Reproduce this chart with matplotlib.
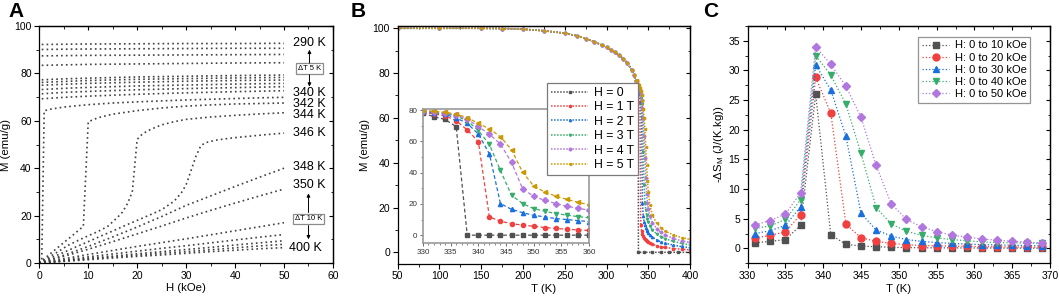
import matplotlib
matplotlib.use('Agg')
import matplotlib.pyplot as plt
from matplotlib.ticker import MultipleLocator

plt.rcParams['font.family'] = ['Liberation Sans', 'DejaVu Sans']
plt.rcParams['axes.linewidth'] = 0.9
plt.rcParams['mathtext.fontset'] = 'custom'
plt.rcParams['mathtext.rm'] = 'Liberation Sans'
plt.rcParams['mathtext.it'] = 'Liberation Sans:italic'

# ---------------- Panel A : M(H) isotherms ----------------
H_ferro = [0.5, 5, 10, 20, 30, 40, 50]
M_290 = [92.2, 92.3, 92.4, 92.5, 92.6, 92.6, 92.7]
M_295 = [90.1, 90.2, 90.3, 90.4, 90.5, 90.6, 90.6]
M_300 = [87.4, 87.5, 87.6, 87.7, 87.8, 87.9, 88.0]
M_305 = [83.4, 83.6, 83.8, 84.0, 84.2, 84.4, 84.5]
M_310 = [77.3, 77.7, 78.0, 78.5, 78.8, 79.1, 79.3]
M_315 = [76.2, 76.6, 77.0, 77.5, 77.8, 78.1, 78.3]
M_320 = [75.0, 75.4, 75.8, 76.3, 76.7, 77.0, 77.2]
M_325 = [73.2, 73.7, 74.1, 74.7, 75.1, 75.5, 75.8]
M_330 = [71.4, 72.0, 72.4, 73.1, 73.6, 74.0, 74.4]
M_335 = [69.3, 69.9, 70.4, 71.2, 71.8, 72.3, 72.7]

H_340 = [0, 0.5, 1, 2, 5, 10, 15, 20, 25, 30, 35, 40, 45, 50]
M_340 = [0, 0.8, 64.2, 64.8, 65.8, 66.8, 67.5, 68.0, 68.4, 68.8, 69.1, 69.4, 69.7, 69.9]

H_342 = [0, 1, 3, 5, 7, 9, 10, 12, 15, 20, 25, 30, 35, 40, 45, 50]
M_342 = [0, 1.8, 5.2, 8.6, 12.0, 15.5, 59.6, 61.3, 62.8, 64.3, 65.4, 66.2, 66.7, 67.1, 67.3, 67.5]

H_344 = [0, 2, 4, 6, 8, 10, 12, 14, 16, 17, 18, 19, 20, 21, 22, 23, 25, 27.5, 30, 35, 40, 45, 50]
M_344 = [0, 2.5, 5.0, 7.6, 9.6, 11.5, 13.3, 15.5, 19.3, 21.5, 25.0, 30.0, 52.2, 54.3, 55.6, 56.6,
         58.3, 59.6, 60.6, 61.6, 62.3, 62.9, 63.4]

H_346 = [0, 2.5, 5, 7.5, 10, 12.5, 15, 17.5, 20, 22.5, 25, 27.5, 29, 30, 31, 32, 33, 34, 36, 38, 40, 43, 46, 50]
M_346 = [0, 2.3, 4.5, 6.8, 9.0, 11.3, 13.5, 15.8, 18.0, 20.2, 22.5, 26.0, 29.5, 33.0, 39.0, 45.0, 49.5,
         50.8, 51.8, 52.4, 52.9, 53.5, 54.1, 54.8]

H_lin = [0, 2.5, 5, 10, 15, 20, 25, 30, 35, 40, 45, 50]
M_348 = [0, 1.6, 3.3, 7.0, 11.0, 15.2, 19.6, 24.3, 28.3, 32.3, 36.2, 40.0]
M_350 = [0, 1.4, 2.8, 5.8, 9.0, 12.3, 15.6, 19.0, 22.2, 25.3, 28.3, 31.2]
M_360 = [0, 0.9, 1.8, 3.6, 5.3, 7.0, 8.6, 10.2, 11.9, 13.6, 15.3, 17.0]
M_370 = [0, 0.7, 1.3, 2.6, 3.8, 5.0, 6.2, 7.3, 8.5, 9.7, 10.9, 12.0]
M_380 = [0, 0.5, 1.0, 2.0, 2.9, 3.9, 4.8, 5.7, 6.6, 7.6, 8.5, 9.4]
M_390 = [0, 0.4, 0.8, 1.7, 2.5, 3.3, 4.1, 4.8, 5.6, 6.4, 7.2, 7.9]
M_400 = [0, 0.35, 0.7, 1.4, 2.1, 2.8, 3.4, 4.1, 4.8, 5.4, 6.0, 6.5]

A_labels = ['290 K', '340 K', '342 K', '344 K', '346 K', '348 K', '350 K', '400 K']
A_label_y = [92.7, 71.6, 67.0, 62.4, 54.7, 40.6, 32.9, 6.2]

# ---------------- Panel B : M(T) ----------------
field_labels = ['H = 0', 'H = 1 T', 'H = 2 T', 'H = 3 T', 'H = 4 T', 'H = 5 T']
T_low = [50, 100, 150, 175, 200, 225, 250, 265, 275, 285, 295, 300, 305, 310, 315, 320, 325, 330, 333, 335]
M_low = [100, 100, 100, 99.9, 99.6, 98.9, 97.8, 96.6, 95.4, 94.0, 92.4, 91.5, 90.5, 89.3, 88.0, 86.4,
         84.5, 81.5, 79.0, 76.5]

T_hi_0 = [337, 338, 338.2, 345, 355, 365, 375, 385, 400]
M_hi_0 = [73.5, 72.0, 0, 0, 0, 0, 0, 0, 0]
T_hi = [336, 338, 339, 340, 341, 342, 343, 344, 345, 346, 347, 348, 349, 350, 352, 355, 360, 365, 370, 380, 390, 400]
M_hi_1 = [75.5, 72.5, 70.5, 67.0, 12.0, 9.5, 8.2, 7.2, 6.5, 6.0, 5.6, 5.2, 4.9, 4.6, 4.1, 3.6, 3.0, 2.5, 2.2, 1.7, 1.4, 1.1]
M_hi_2 = [76.0, 73.5, 72.0, 70.5, 67.0, 60.0, 22.0, 16.0, 13.5, 12.0, 10.9, 10.0, 9.3, 8.8, 7.8, 6.8, 5.6, 4.7, 4.1, 3.2, 2.6, 2.1]
M_hi_3 = [76.3, 74.2, 73.0, 71.5, 69.0, 66.0, 60.0, 45.0, 30.0, 22.0, 19.0, 16.5, 14.8, 13.5, 11.8, 10.0, 8.2, 7.0, 6.1, 4.9, 4.0, 3.3]
M_hi_4 = [76.6, 74.8, 73.8, 72.5, 70.5, 68.0, 64.5, 60.0, 52.0, 42.0, 33.0, 26.0, 22.0, 19.5, 16.0, 13.2, 10.6, 9.0, 7.8, 6.2, 5.1, 4.4]
M_hi_5 = [76.9, 75.3, 74.5, 73.5, 72.0, 70.0, 67.5, 64.0, 60.0, 55.0, 47.0, 39.0, 32.0, 27.0, 21.0, 16.5, 13.0, 11.0, 9.6, 7.7, 6.6, 5.8]

T_in = [330, 332, 334, 336, 338, 340, 342, 344, 346, 348, 350, 352, 354, 356, 358, 360]
M_in_0 = [78.1, 75.7, 74.0, 69.4, 0, 0, 0, 0, 0, 0, 0, 0, 0, 0, 0, 0]
M_in_1 = [78.6, 77.5, 76.4, 73.2, 67.3, 59.9, 11.7, 8.9, 7.4, 6.4, 5.7, 4.9, 4.3, 3.8, 3.4, 3.0]
M_in_2 = [79.2, 78.2, 77.2, 75.0, 71.5, 64.7, 52.0, 20.2, 16.5, 14.4, 12.7, 11.7, 10.6, 10.0, 9.3, 8.7]
M_in_3 = [79.4, 78.6, 77.8, 76.2, 73.2, 67.0, 58.0, 41.4, 25.5, 20.2, 17.0, 15.3, 13.8, 12.8, 11.9, 11.1]
M_in_4 = [79.6, 78.9, 78.2, 76.8, 74.2, 69.5, 64.5, 58.3, 46.5, 29.7, 24.8, 22.3, 20.2, 18.5, 17.2, 16.0]
M_in_5 = [79.8, 79.2, 78.6, 77.4, 75.2, 71.5, 68.0, 63.0, 54.6, 40.3, 31.5, 27.6, 25.0, 22.9, 21.0, 19.5]

# ---------------- Panel C : -dS_M(T) ----------------
T_C = [331, 333, 335, 337, 339, 341, 343, 345, 347, 349, 351, 353, 355, 357, 359, 361, 363, 365, 367, 369]
dS_10 = [0.95, 1.2, 1.5, 3.9, 26.0, 2.3, 0.7, 0.4, 0.3, 0.2, 0.15, 0.12, 0.1, 0.1, 0.08, 0.08, 0.07, 0.06, 0.05, 0.05]
dS_20 = [1.8, 2.2, 2.8, 5.7, 28.8, 22.8, 4.1, 1.8, 1.2, 0.85, 0.65, 0.5, 0.45, 0.4, 0.35, 0.3, 0.28, 0.25, 0.22, 0.2]
dS_30 = [2.5, 3.0, 3.9, 7.0, 30.9, 26.7, 18.9, 5.9, 3.1, 2.1, 1.5, 1.2, 1.0, 0.85, 0.75, 0.65, 0.6, 0.55, 0.5, 0.45]
dS_40 = [3.4, 3.8, 4.9, 8.2, 32.5, 29.2, 24.3, 16.0, 6.9, 4.1, 2.9, 2.2, 1.8, 1.5, 1.3, 1.1, 1.0, 0.95, 0.9, 0.85]
dS_50 = [4.0, 4.7, 5.8, 9.4, 34.0, 31.0, 27.3, 22.1, 14.0, 7.5, 4.9, 3.65, 2.85, 2.25, 1.9, 1.6, 1.4, 1.2, 1.05, 0.9]
C_labels = ['H: 0 to 10 kOe', 'H: 0 to 20 kOe', 'H: 0 to 30 kOe', 'H: 0 to 40 kOe', 'H: 0 to 50 kOe']

COLORS = ['#515151', '#F14040', '#1A6FDF', '#37AD6B', '#B177DE', '#CC9900']
MARKERS = ['s', 'o', '^', 'v', 'D', '<']

TICK_FS = 7.5
LABEL_FS = 8.2


def style_axes(ax, xmaj, xmin, ymaj, ymin):
    ax.xaxis.set_major_locator(MultipleLocator(xmaj))
    ax.xaxis.set_minor_locator(MultipleLocator(xmin))
    ax.yaxis.set_major_locator(MultipleLocator(ymaj))
    ax.yaxis.set_minor_locator(MultipleLocator(ymin))
    ax.tick_params(which='major', direction='out', length=3.5, width=0.8, labelsize=TICK_FS, pad=2)
    ax.tick_params(which='minor', direction='out', length=2, width=0.6)
    top = ax.secondary_xaxis('top')
    top.xaxis.set_major_locator(MultipleLocator(xmaj))
    top.xaxis.set_minor_locator(MultipleLocator(xmin))
    top.tick_params(which='both', direction='in', labeltop=False)
    right = ax.secondary_yaxis('right')
    right.yaxis.set_major_locator(MultipleLocator(ymaj))
    right.yaxis.set_minor_locator(MultipleLocator(ymin))
    right.tick_params(which='both', direction='in', labelright=False)
    for ax2 in (top, right):
        ax2.tick_params(which='major', length=3, width=0.8)
        ax2.tick_params(which='minor', length=1.8, width=0.6)


fig = plt.figure(figsize=(10.59, 3.01), dpi=100)

# ---------- A ----------
axA = fig.add_axes([0.0371, 0.1262, 0.2773, 0.7874])
a_kw = dict(color='#404040', ls=(0, (1, 1.9)), lw=1.2)
for M in (M_290, M_295, M_300, M_305, M_310, M_315, M_320, M_325, M_330, M_335):
    axA.plot(H_ferro, M, **a_kw)
axA.plot(H_340, M_340, **a_kw)
axA.plot(H_342, M_342, **a_kw)
axA.plot(H_344, M_344, **a_kw)
axA.plot(H_346, M_346, **a_kw)
for M in (M_348, M_350, M_360, M_370, M_380, M_390, M_400):
    axA.plot(H_lin, M, **a_kw)
axA.set_xlim(0, 60)
axA.set_ylim(0, 100)
style_axes(axA, 10, 5, 20, 10)
axA.set_xlabel('H (kOe)', fontsize=LABEL_FS, labelpad=2)
axA.set_ylabel('M (emu/g)', fontsize=LABEL_FS, labelpad=2)
for lab, y in zip(A_labels, A_label_y):
    x = 54.4 if lab == '400 K' else 55.2
    axA.text(x, y, lab, fontsize=9, ha='center', va='center')
box = dict(boxstyle='square,pad=0.25', fc='white', ec='#8c8c8c', lw=0.9)
axA.text(55.2, 81.9, '\u0394T 5 K', fontsize=5.5, ha='center', va='center', bbox=box)
axA.text(55.0, 18.6, '\u0394T 10 K', fontsize=5.5, ha='center', va='center', bbox=box)
arr = dict(arrowstyle='-|>', lw=0.7, color='black', mutation_scale=5, shrinkA=0, shrinkB=0)
axA.annotate('', xy=(55.2, 90.0), xytext=(55.2, 84.4), arrowprops=arr)
axA.annotate('', xy=(55.2, 74.4), xytext=(55.2, 79.4), arrowprops=arr)
axA.annotate('', xy=(55.0, 29.4), xytext=(55.0, 21.3), arrowprops=arr)
axA.annotate('', xy=(55.0, 10.0), xytext=(55.0, 15.8), arrowprops=arr)

# ---------- B ----------
B_rect = [0.3755, 0.1245, 0.2761, 0.789]
axB = fig.add_axes(B_rect)
main_hi = [(T_hi_0, M_hi_0), (T_hi, M_hi_1), (T_hi, M_hi_2), (T_hi, M_hi_3), (T_hi, M_hi_4), (T_hi, M_hi_5)]
handles = []
for i, (Th, Mh) in enumerate(main_hi):
    h, = axB.plot(T_low + Th, M_low + Mh, color=COLORS[i], ls=(0, (1, 1)), lw=1.1,
                  marker=MARKERS[i], ms=1.6, label=field_labels[i])
    handles.append(h)
axB.set_xlim(50, 400)
axB.set_ylim(-5, 101)
style_axes(axB, 50, 25, 20, 10)
axB.set_xlabel('T (K)', fontsize=LABEL_FS, labelpad=2)
axB.set_ylabel('M (emu/g)', fontsize=LABEL_FS, labelpad=2)

axI = fig.add_axes([0.3994, 0.1927, 0.1568, 0.4442])
for i, M in enumerate((M_in_0, M_in_1, M_in_2, M_in_3, M_in_4, M_in_5)):
    axI.plot(T_in, M, color=COLORS[i], ls=(0, (3, 2)), lw=0.9, marker=MARKERS[i], ms=3,
             mec=COLORS[i], mfc=COLORS[i])
axI.set_xlim(330, 360)
axI.set_ylim(-5, 80.5)
axI.xaxis.set_major_locator(MultipleLocator(5))
axI.xaxis.set_minor_locator(MultipleLocator(1))
axI.yaxis.set_major_locator(MultipleLocator(20))
axI.yaxis.set_minor_locator(MultipleLocator(10))
axI.tick_params(which='major', direction='out', length=2.5, width=0.6, labelsize=5.8, pad=1.5,
                colors='#555555', labelcolor='#333333')
axI.tick_params(which='minor', direction='out', length=1.3, width=0.5, colors='#555555')
for s in axI.spines.values():
    s.set_color('#9a9a9a')
    s.set_linewidth(1.2)

legB = fig.legend(handles=handles, labels=field_labels, loc='upper left',
                  bbox_to_anchor=(B_rect[0] + 0.511 * B_rect[2], B_rect[1] + 0.762 * B_rect[3]),
                  fontsize=8.8, frameon=True, fancybox=False, edgecolor='#7a7a7a',
                  handlelength=3.0, handletextpad=0.5, borderpad=0.35, labelspacing=0.2,
                  borderaxespad=0, framealpha=1)
legB.get_frame().set_linewidth(0.9)

# ---------- C ----------
axC = fig.add_axes([0.706, 0.1252, 0.2855, 0.789])
for i, dS in enumerate((dS_10, dS_20, dS_30, dS_40, dS_50)):
    axC.plot(T_C, dS, color=COLORS[i], ls=':', lw=0.9, marker=MARKERS[i],
             ms=5.0 if MARKERS[i] != 'D' else 4.4, mec=COLORS[i], mfc=COLORS[i], label=C_labels[i])
axC.set_xlim(330, 370)
axC.set_ylim(-2.5, 37.5)
style_axes(axC, 5, 2.5, 5, 2.5)
axC.set_xlabel('T (K)', fontsize=LABEL_FS, labelpad=2)
axC.set_ylabel(r'-$\Delta$S$_\mathregular{M}$ (J/(K.kg))', fontsize=LABEL_FS, labelpad=2)
legC = axC.legend(loc='upper right', bbox_to_anchor=(0.935, 0.955), fontsize=8.0, frameon=True,
                  fancybox=False, edgecolor='#7a7a7a', handlelength=2.4, handletextpad=0.5,
                  borderpad=0.35, labelspacing=0.2, borderaxespad=0)
legC.get_frame().set_linewidth(0.9)

for x, lab in ((0.008, 'A'), (0.331, 'B'), (0.664, 'C')):
    fig.text(x, 0.995, lab, fontsize=15, fontweight='bold', va='top', ha='left')

fig.savefig('out.png', dpi=100)
